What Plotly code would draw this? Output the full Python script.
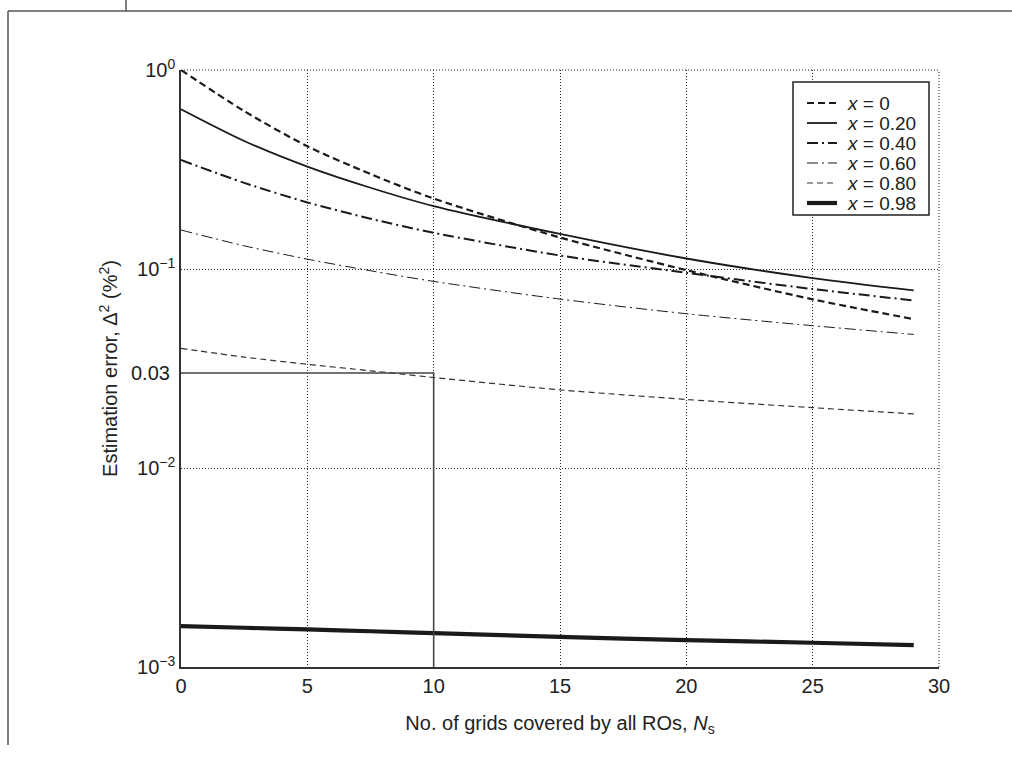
import plotly.graph_objects as go

# Number of grids covered by all ROs
n_s = [0, 2.5, 5, 7.5, 10, 15, 20, 25, 29]

# Estimation error (%^2) for each x
err_x000 = [1.0, 0.622, 0.414, 0.300, 0.226, 0.144, 0.0987, 0.0704, 0.056]
err_x020 = [0.635, 0.440, 0.327, 0.256, 0.207, 0.150, 0.1129, 0.090, 0.078]
err_x040 = [0.353, 0.271, 0.216, 0.179, 0.152, 0.1169, 0.0957, 0.0793, 0.0695]
err_x060 = [0.157, 0.1308, 0.1121, 0.098, 0.0866, 0.0706, 0.0596, 0.0519, 0.0469]
err_x080 = [0.0399, 0.0361, 0.0332, 0.0308, 0.0285, 0.0247, 0.0221, 0.0201, 0.0187]
err_x098 = [0.001604, 0.001575, 0.001545, 0.001512, 0.001480, 0.001416, 0.001365, 0.001324, 0.001288]

labels = ["<i>x</i> = 0", "<i>x</i> = 0.20", "<i>x</i> = 0.40",
          "<i>x</i> = 0.60", "<i>x</i> = 0.80", "<i>x</i> = 0.98"]

# Target error level and the grid count that reaches it
target_err = 0.03
target_ns = 10

y_tickvals = [1, 0.1, 0.01, 0.001]
y_ticktext = ["10<sup>0</sup>", "10<sup>\u22121</sup>", "10<sup>\u22122</sup>", "10<sup>\u22123</sup>"]
x_tickvals = [0, 5, 10, 15, 20, 25, 30]

series = [err_x000, err_x020, err_x040, err_x060, err_x080, err_x098]
styles = [
    dict(color="#1a1a1a", width=2.2, dash="7px,4px"),
    dict(color="#1a1a1a", width=1.8, dash="solid"),
    dict(color="#1a1a1a", width=2.0, dash="11px,4px,2px,4px"),
    dict(color="#1a1a1a", width=1.0, dash="11px,4px,2px,4px"),
    dict(color="#333333", width=1.2, dash="6px,4px"),
    dict(color="#1a1a1a", width=4.2, dash="solid"),
]

fig = go.Figure()
for vals, name, st in zip(series, labels, styles):
    fig.add_trace(go.Scatter(x=n_s, y=vals, mode="lines", name=name, showlegend=False,
                             line=dict(shape="spline", smoothing=0.8, **st)))

# reference lines: target error up to N_s = 10, then down to the axis
fig.add_trace(go.Scatter(x=[0, target_ns, target_ns], y=[target_err, target_err, 0.001],
                         mode="lines", line=dict(color="#444444", width=1.6),
                         showlegend=False, hoverinfo="skip"))

FONT = "Liberation Sans, Arial, Helvetica, sans-serif"
TXT = "#222222"

# pixel -> paper helpers (plot area spans 181..939 px, 70..667 px)
px_x = lambda p: (p - 181) / 758
px_y = lambda p: (667 - p) / 597

shapes = []
annotations = [dict(x=0, xref="paper", y=-1.5229, yref="y", text="0.03",
                    showarrow=False, xanchor="right", xshift=-9,
                    font=dict(size=20, family=FONT, color=TXT))]

# dotted top and right borders of the axes box
grid_line = dict(color="#222222", width=1, dash="1px,2px")
shapes.append(dict(type="line", xref="paper", yref="paper", x0=0, x1=1, y0=1, y1=1,
                   line=grid_line, layer="below"))
shapes.append(dict(type="line", xref="paper", yref="paper", x0=1, x1=1, y0=0, y1=1,
                   line=grid_line, layer="below"))

# legend box with line samples and labels
shapes.append(dict(type="rect", xref="paper", yref="paper",
                   x0=px_x(793), x1=px_x(929), y0=px_y(215), y1=px_y(82),
                   fillcolor="white", line=dict(color="#222222", width=1.5)))
for i, (name, st) in enumerate(zip(labels, styles)):
    row_y = 103 + 20 * i
    shapes.append(dict(type="line", xref="paper", yref="paper",
                       x0=px_x(807), x1=px_x(837), y0=px_y(row_y), y1=px_y(row_y),
                       line=dict(color=st["color"], width=st["width"], dash=st["dash"])))
    annotations.append(dict(x=px_x(845), y=px_y(row_y), xref="paper", yref="paper",
                            text=name, showarrow=False, xanchor="left", yanchor="middle",
                            font=dict(size=19, family=FONT, color=TXT)))

# page frame
frame = dict(color="#555555", width=1.5)
shapes.append(dict(type="line", xref="paper", yref="paper", x0=px_x(8), x1=px_x(1012),
                   y0=px_y(11), y1=px_y(11), line=frame))
shapes.append(dict(type="line", xref="paper", yref="paper", x0=px_x(8), x1=px_x(8),
                   y0=px_y(11), y1=px_y(745), line=frame))
shapes.append(dict(type="line", xref="paper", yref="paper", x0=px_x(126), x1=px_x(126),
                   y0=px_y(0), y1=px_y(11), line=frame))

fig.update_layout(
    width=1012, height=766,
    margin=dict(l=181, r=73, t=70, b=99),
    paper_bgcolor="white", plot_bgcolor="white",
    font=dict(family=FONT, size=20, color=TXT),
    showlegend=False,
    xaxis=dict(range=[0, 30], tickvals=x_tickvals, ticks="", showline=True,
               linecolor="#333333", linewidth=1.5, mirror=False,
               showgrid=True, gridcolor="#222222", gridwidth=1, griddash="1px,2px",
               zeroline=False,
               title=dict(text="No. of grids covered by all ROs, <i>N</i><sub>s</sub>",
                          standoff=20, font=dict(size=20)),
               tickfont=dict(size=20)),
    yaxis=dict(type="log", range=[-3, 0], tickvals=y_tickvals, ticktext=y_ticktext,
               ticks="", showline=True, linecolor="#333333", linewidth=1.5, mirror=False,
               showgrid=True, gridcolor="#222222", gridwidth=1, griddash="1px,2px",
               zeroline=False,
               title=dict(text="Estimation error, \u0394<sup>2</sup> (%<sup>2</sup>)",
                          standoff=14, font=dict(size=20)),
               tickfont=dict(size=20)),
    shapes=shapes,
    annotations=annotations,
)

fig.write_html("out.html")
